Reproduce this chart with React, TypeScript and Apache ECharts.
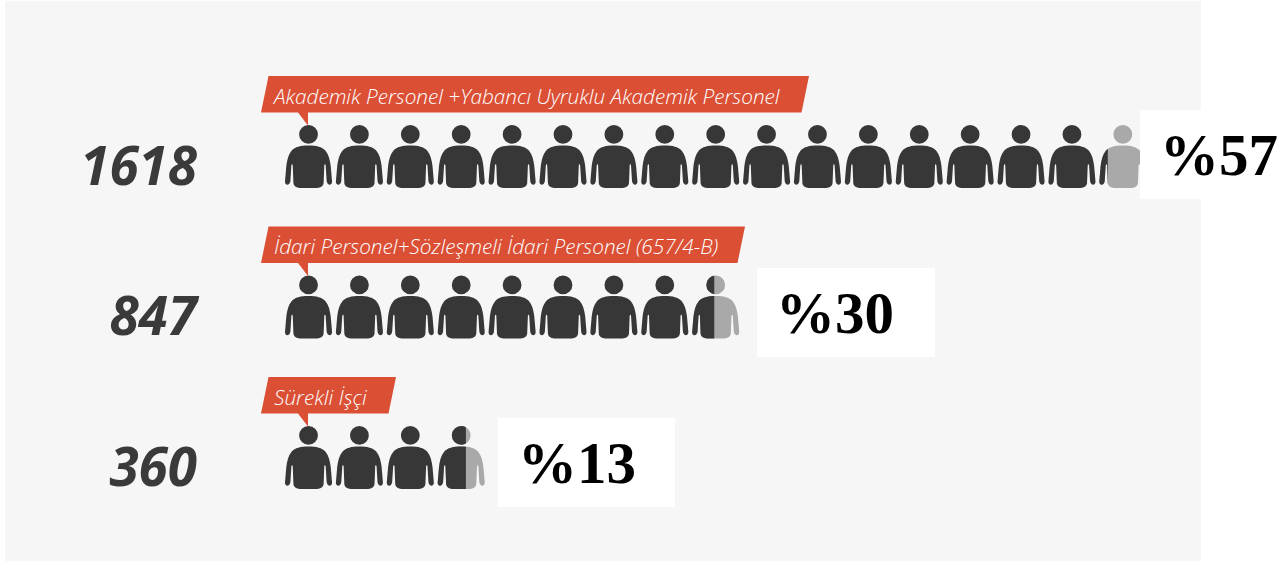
import React, { useEffect, useRef } from "react";
import * as echarts from "echarts";

const counts = [1618, 847, 360];
const tagLabels = [
  "Akademik Personel +Yabancı Uyruklu Akademik Personel",
  "İdari Personel+Sözleşmeli İdari Personel (657/4-B)",
  "Sürekli İşçi",
];
const percentLabels = ["%57", "%30", "%13"];
const unitPerIcon = 100;

const tagWidths = [533, 469, 120];
const boxLefts = [1140, 757, 498];
const boxWidths = [140, 178, 177];
const boxTops = [110, 268, 418];
const textLefts = [1160, 776, 518];

const ICON_W = 140;
const ICON_H = 188;
const PX_W = 47;
const ICON_PATH =
  "M70 61 C94 61 110 65 120 76 C130 88 134 105 136 122 L140 168 C141 177 133 181 128 176 C126 174 125 172 124 168 L121 120 C120 116 117 116 117 120 L115 172 C115 182 106 188 96 188 L44 188 C34 188 25 182 25 172 L23 120 C23 116 20 116 19 120 L16 168 C15 172 14 174 12 176 C7 181 -1 177 0 168 L4 122 C6 105 10 88 20 76 C30 65 46 61 70 61 Z " +
  "M70 0 A28 28 0 1 1 70 56 A28 28 0 1 1 70 0 Z";

const DARK = "#373737";
const GRAY = "#a9a9a9";
const RED = "#db4f35";

export default function App() {
  const ref = useRef<HTMLDivElement>(null);
  useEffect(() => {
    const chart = echarts.init(ref.current!, null, { renderer: "svg" });
    const scale = PX_W / ICON_W;
    const iconData: number[][] = [];
    counts.forEach((c, row) => {
      const n = Math.ceil(c / unitPerIcon);
      for (let i = 0; i < n; i++) {
        const frac = Math.min(1, c / unitPerIcon - i);
        iconData.push([i * unitPerIcon, row, frac]);
      }
    });
    chart.setOption({
      animation: false,
      grid: { left: 285, right: 28, top: 81.25, height: 451.5 },
      xAxis: { type: "value", min: 0, max: 1900, show: false, splitLine: { show: false } },
      yAxis: {
        type: "category",
        inverse: true,
        data: counts.map(String),
        axisLine: { show: false },
        axisTick: { show: false },
        axisLabel: { show: false },
      },
      graphic: [
        { type: "rect", z: -10, shape: { x: 5, y: 1, width: 1196, height: 560 }, style: { fill: "#f6f6f6" } },
        ...percentLabels.flatMap((p, i) => [
          {
            type: "rect",
            z: 10,
            shape: { x: boxLefts[i], y: boxTops[i], width: boxWidths[i], height: 89 },
            style: { fill: "#ffffff" },
          },
          {
            type: "text",
            z: 11,
            x: textLefts[i],
            y: boxTops[i] + 45,
            style: {
              text: p,
              fill: "#000000",
              font: "bold 59px 'Liberation Serif'",
              verticalAlign: "middle",
            },
          },
        ]),
      ],
      series: [
        {
          type: "custom",
          name: "icons",
          coordinateSystem: "cartesian2d",
          data: iconData,
          encode: { x: 0, y: 1 },
          renderItem: (_p: any, api: any) => {
            const pt = api.coord([api.value(0), api.value(1)]);
            const frac = api.value(2);
            const x = pt[0];
            const y = pt[1] - 31.5;
            const base = { x, y, scaleX: scale, scaleY: 63 / ICON_H };
            const children: any[] = [];
            if (frac < 1) {
              children.push({ type: "path", ...base, shape: { pathData: ICON_PATH }, style: { fill: GRAY } });
            }
            children.push({
              type: "path",
              ...base,
              shape: { pathData: ICON_PATH },
              style: { fill: DARK },
              ...(frac < 1
                ? { clipPath: { type: "rect", shape: { x: -5, y: -5, width: 5 + frac * ICON_W, height: ICON_H + 10 } } }
                : {}),
            });
            return { type: "group", children };
          },
        },
        {
          type: "custom",
          name: "tags",
          coordinateSystem: "cartesian2d",
          data: tagLabels.map((_, i) => [0, i]),
          encode: { x: 0, y: 1 },
          renderItem: (_p: any, api: any) => {
            const row = api.value(1);
            const pt = api.coord([0, row]);
            const x0 = pt[0];
            const yc = pt[1];
            const w = tagWidths[row];
            return {
              type: "group",
              children: [
                {
                  type: "text",
                  x: x0 - 88,
                  y: yc + 7.5,
                  style: {
                    text: String(counts[row]),
                    fill: "#3a3a3a",
                    font: "italic bold 53px 'Open Sans'",
                    align: "right",
                    verticalAlign: "middle",
                  },
                },
                {
                  type: "polygon",
                  shape: {
                    points: [
                      [x0 - 16.5, yc - 80.5],
                      [x0 - 16.5 + w + 7.5, yc - 80.5],
                      [x0 - 24 + w + 7.5, yc - 44],
                      [x0 + 23, yc - 44],
                      [x0 + 23, yc - 31],
                      [x0 + 13, yc - 44],
                      [x0 - 24, yc - 44],
                    ],
                  },
                  style: { fill: RED },
                },
                {
                  type: "text",
                  x: x0 - 11,
                  y: yc - 61,
                  style: {
                    text: tagLabels[row],
                    fill: "#ffffff",
                    font: "italic 300 20.75px 'Open Sans'",
                    verticalAlign: "middle",
                  },
                },
              ],
            };
          },
        },
      ],
    });
    return () => chart.dispose();
  }, []);
  return <div ref={ref} style={{ position: "fixed", left: 0, top: 0, width: 1280, height: 562, background: "#fff" }} />;
}
